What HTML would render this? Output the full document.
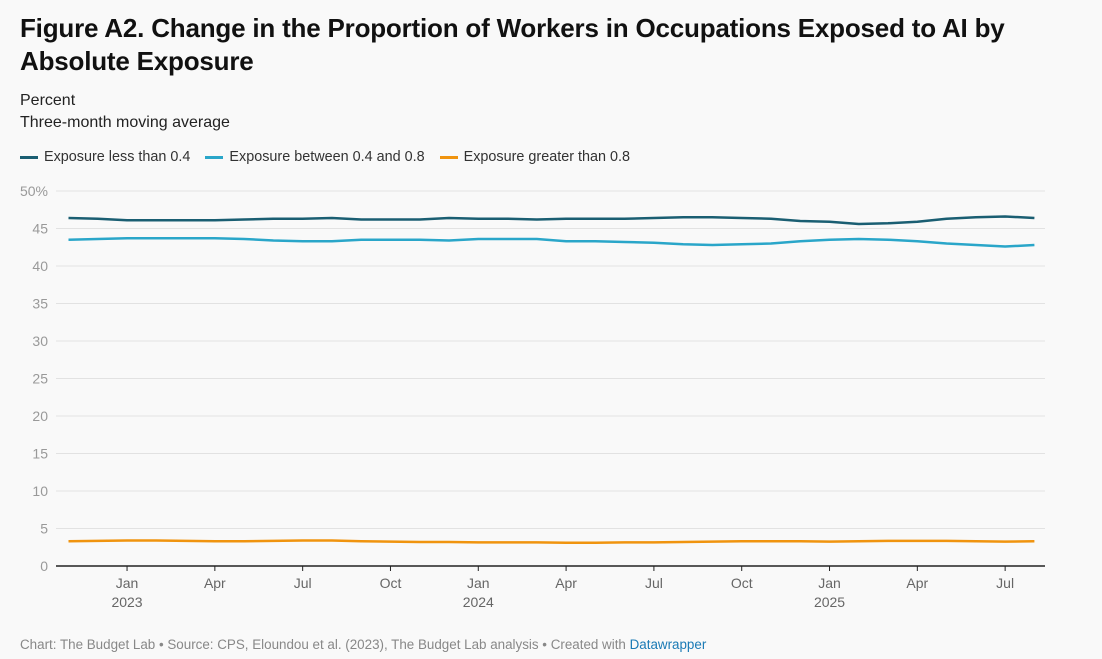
<!DOCTYPE html>
<html><head><meta charset="utf-8"><style>
body{margin:0;width:1102px;height:659px;background:#f9f9f9;font-family:"Liberation Sans",sans-serif;overflow:hidden;position:relative}
h1{position:absolute;left:20px;top:12px;margin:0;font-size:26px;line-height:33px;font-weight:bold;color:#111;width:1040px;letter-spacing:-0.2px}
.sub{position:absolute;left:20px;font-size:16px;color:#222}
.leg{position:absolute;top:149px;left:20px;font-size:14.4px;color:#333;display:flex;gap:15px}
.leg span{display:flex;align-items:center}
.leg i{display:inline-block;width:18px;height:3px;margin-right:6px}
.foot{position:absolute;left:20px;top:637px;font-size:13.4px;color:#888}
</style></head><body>
<h1>Figure A2. Change in the Proportion of Workers in Occupations Exposed to AI by<br>Absolute Exposure</h1>
<div class="sub" style="top:92px">Percent</div>
<div class="sub" style="top:114px">Three-month moving average</div>
<div class="leg"><span><i style="background:#1a5e72"></i>Exposure less than 0.4</span><span><i style="background:#2aa6c9"></i>Exposure between 0.4 and 0.8</span><span><i style="background:#f0940f"></i>Exposure greater than 0.8</span></div>
<svg id="c" width="1102" height="659" style="position:absolute;left:0;top:0"></svg>
<div class="foot">Chart: The Budget Lab • Source: CPS, Eloundou et al. (2023), The Budget Lab analysis • Created with <span style="color:#1a7ab5">Datawrapper</span></div>
<script>
const s=document.getElementById('c');let h='';
const y=v=>566-v*7.5;
for(let v=5;v<=50;v+=5){h+=`<line x1="56" x2="1045" y1="${y(v)}" y2="${y(v)}" stroke="#e2e2e2"/>`;
h+=`<text x="48" y="${y(v)+5}" text-anchor="end" font-size="14" fill="#999">${v==50?'50%':v}</text>`}
h+=`<text x="48" y="571" text-anchor="end" font-size="14" fill="#999">0</text>`;
h+=`<line x1="56" x2="1045" y1="566" y2="566" stroke="#222" stroke-width="1.5"/>`;
const mx=i=>68.5+i*29.27;
const labs=[[2,'Jan','2023'],[5,'Apr'],[8,'Jul'],[11,'Oct'],[14,'Jan','2024'],[17,'Apr'],[20,'Jul'],[23,'Oct'],[26,'Jan','2025'],[29,'Apr'],[32,'Jul']];
labs.forEach(l=>{const x=mx(l[0]);h+=`<line x1="${x}" x2="${x}" y1="566" y2="571" stroke="#222"/><text x="${x}" y="588" text-anchor="middle" font-size="14" fill="#666">${l[1]}</text>`;if(l[2])h+=`<text x="${x}" y="607" text-anchor="middle" font-size="14" fill="#666">${l[2]}</text>`});
const d=[46.4,46.3,46.1,46.1,46.1,46.1,46.2,46.3,46.3,46.4,46.2,46.2,46.2,46.4,46.3,46.3,46.2,46.3,46.3,46.3,46.4,46.5,46.5,46.4,46.3,46.0,45.9,45.6,45.7,45.9,46.3,46.5,46.6,46.4];
const l=[43.5,43.6,43.7,43.7,43.7,43.7,43.6,43.4,43.3,43.3,43.5,43.5,43.5,43.4,43.6,43.6,43.6,43.3,43.3,43.2,43.1,42.9,42.8,42.9,43.0,43.3,43.5,43.6,43.5,43.3,43.0,42.8,42.6,42.8];
const o=[3.3,3.35,3.4,3.4,3.35,3.3,3.3,3.35,3.4,3.4,3.3,3.25,3.2,3.2,3.15,3.15,3.15,3.1,3.1,3.15,3.15,3.2,3.25,3.3,3.3,3.3,3.25,3.3,3.35,3.35,3.35,3.3,3.25,3.3];
[[d,'#1a5e72'],[l,'#2aa6c9'],[o,'#f0940f']].forEach(([a,c])=>{h+=`<polyline fill="none" stroke="${c}" stroke-width="2.5" stroke-linejoin="round" points="${a.map((v,i)=>mx(i)+','+y(v)).join(' ')}"/>`});
s.innerHTML=h;
</script>
</body></html>
